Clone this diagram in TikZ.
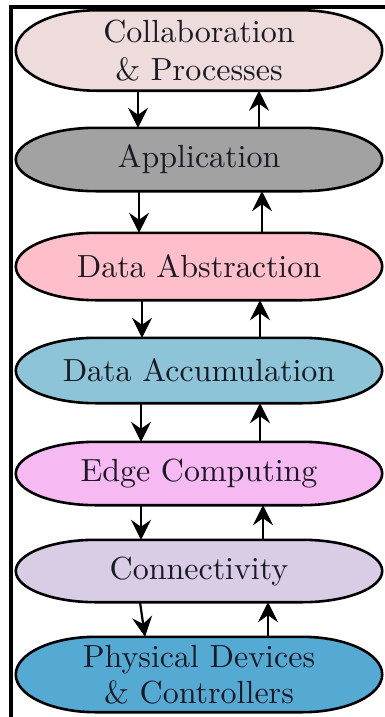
\documentclass[tikz,border=0pt]{standalone}
\usepackage{fontspec}
\usetikzlibrary{arrows.meta,calc,backgrounds}

% text-size cut of Latin Modern, heavier strokes when set large
\newfontfamily\labelfont{lmroman10-regular.otf}

\definecolor{cCollab}{HTML}{EEDCDC}
\definecolor{cApp}{HTML}{A2A2A2}
\definecolor{cAbs}{HTML}{FFBFCA}
\definecolor{cAccum}{HTML}{8DC4D8}
\definecolor{cEdge}{HTML}{F7B9F2}
\definecolor{cConn}{HTML}{D9CDE6}
\definecolor{cPhys}{HTML}{55AAD4}
\definecolor{ink}{HTML}{1A1A24}

\tikzset{
  layer/.style={inner sep=0pt, text width=366pt, minimum width=366pt, align=center,
                text=ink, font=\labelfont\fontsize{32}{36}\selectfont},
  flow/.style={line width=2.2pt, draw=black,
               -{Stealth[length=20pt,width=20pt,inset=7pt]}},
  rim/.style={draw=black, line width=2.6pt},
  frame/.style={line width=4pt, line join=miter},
}

% pill outline with elliptical ends around a named node
\newcommand\pill[2]{%
  \path[rim, fill=#2] let \p1=(#1.north west), \p2=(#1.south east),
      \n1={(\y1-\y2)/2} in
    (\x1+80pt,\y1) -- (\x2-80pt,\y1)
    arc[start angle=90, end angle=-90, x radius=80pt, y radius=\n1]
    -- (\x1+80pt,\y2)
    arc[start angle=270, end angle=90, x radius=80pt, y radius=\n1]
    -- cycle;}

\begin{document}
\begin{tikzpicture}[x=1pt, y=-1pt]
  \useasboundingbox (0,0) rectangle (385,717);

  % frame
  \draw[frame] (11,717) -- (11,7) -- (385,7);

  % layers
  \node[layer, minimum height=80pt, font=\labelfont\fontsize{32}{37.5}\selectfont]
       (n1) at (199,50.5) {Collaboration\\\& Processes};
  \node[layer, minimum height=63pt] (n2) at (199,159.5) {Application};
  \node[layer, minimum height=67pt] (n3) at (199,266.5) {Data Abstraction};
  \node[layer, minimum height=65pt] (n4) at (199,370.5) {Data Accumulation};
  \node[layer, minimum height=63pt] (n5) at (199,473.5) {Edge Computing};
  \node[layer, minimum height=62pt] (n6) at (199,571) {Connectivity};
  \node[layer, minimum height=75pt] (n7) at (199,674.5) {Physical Devices\\\& Controllers};

  \begin{scope}[on background layer]
    \fill[white] (0,0) rectangle (385,717);
    \pill{n1}{cCollab}
    \pill{n2}{cApp}
    \pill{n3}{cAbs}
    \pill{n4}{cAccum}
    \pill{n5}{cEdge}
    \pill{n6}{cConn}
    \pill{n7}{cPhys}
  \end{scope}

  % arrow columns
  \coordinate (d1) at (138,0);   \coordinate (u1) at (259,0);
  \coordinate (d2) at (139,0);   \coordinate (u2) at (262,0);
  \coordinate (d3) at (142,0);   \coordinate (u3) at (260,0);
  \coordinate (d4) at (141,0);   \coordinate (u4) at (260,0);
  \coordinate (d5) at (141,0);   \coordinate (u5) at (263,0);
  \coordinate (d6a) at (140,0);  \coordinate (d6b) at (145,0);
  \coordinate (u6) at (268,0);

  \draw[flow] (n1.south -| d1) -- (n2.north -| d1);
  \draw[flow] (n2.north -| u1) -- (n1.south -| u1);
  \draw[flow] (n2.south -| d2) -- (n3.north -| d2);
  \draw[flow] (n3.north -| u2) -- (n2.south -| u2);
  \draw[flow] (n3.south -| d3) -- (n4.north -| d3);
  \draw[flow] (n4.north -| u3) -- (n3.south -| u3);
  \draw[flow] (n4.south -| d4) -- (n5.north -| d4);
  \draw[flow] (n5.north -| u4) -- (n4.south -| u4);
  \draw[flow] (n5.south -| d5) -- (n6.north -| d5);
  \draw[flow] (n6.north -| u5) -- (n5.south -| u5);
  \draw[flow] (n6.south -| d6a) -- (n7.north -| d6b);
  \draw[flow] (n7.north -| u6) -- (n6.south -| u6);
\end{tikzpicture}
\end{document}
